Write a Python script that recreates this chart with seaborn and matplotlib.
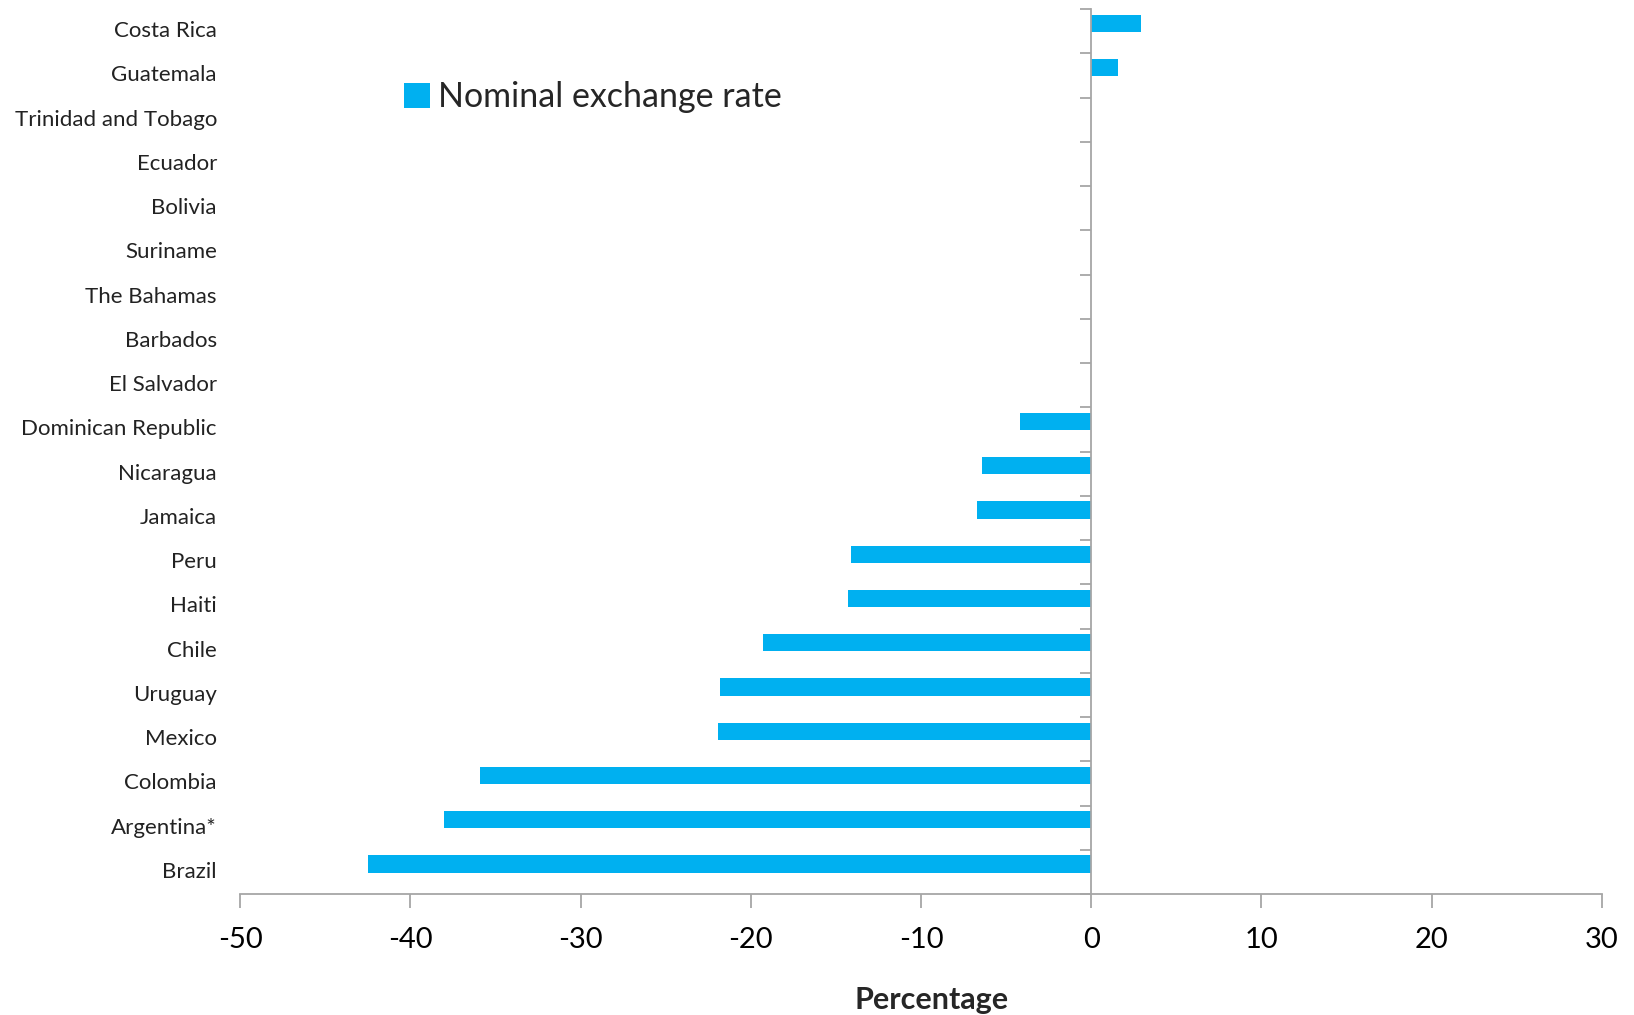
import numpy as np
import pandas as pd
import matplotlib
matplotlib.use('Agg')
import matplotlib.pyplot as plt
import matplotlib.transforms as mtransforms
import seaborn as sns

# Дані з графіка (зверху вниз)
countries = ['Costa Rica', 'Guatemala', 'Trinidad and Tobago', 'Ecuador', 'Bolivia',
             'Suriname', 'The Bahamas', 'Barbados', 'El Salvador', 'Dominican Republic',
             'Nicaragua', 'Jamaica', 'Peru', 'Haiti', 'Chile', 'Uruguay', 'Mexico',
             'Colombia', 'Argentina*', 'Brazil']
nominal = [2.9, 1.6, 0.0, 0.0, 0.0, 0.0, 0.0, 0.0, 0.0, -4.2,
           -6.4, -6.7, -14.1, -14.3, -19.3, -21.8, -21.9, -35.9, -38.0, -42.5]
x_ticks = [-50, -40, -30, -20, -10, 0, 10, 20, 30]

df = pd.DataFrame({'country': countries, 'value': nominal})

sns.set_style('white')
plt.rcParams['font.family'] = ['Lato', 'DejaVu Sans']

fig = plt.figure(figsize=(16.34, 10.15), dpi=100)
ax = fig.add_axes([0.1469, 0.1192, 0.8335, 0.8719])

sns.barplot(data=df, y='country', x='value', orient='h', color='#00B0F0',
            saturation=1, width=0.39, ax=ax, label='Nominal exchange rate')

# Excel зсуває смуги трохи вгору від центру категорії
for p in ax.patches:
    p.set_y(p.get_y() - 0.18)
    p.set_edgecolor('none')

ax.set_xlim(-50, 30)
ax.set_ylim(len(countries) - 0.5, -0.5)
ax.set_xticks(x_ticks)
ax.set_xticklabels([str(t) for t in x_ticks], fontsize=21)

# вертикальна вісь проходить через 0, позначки на межах категорій
ax.spines['left'].set_position(('data', 0))
ax.set_yticks(np.arange(-0.5, len(countries), 1))
ax.set_yticklabels([])
for s in ['top', 'right']:
    ax.spines[s].set_visible(False)
for s in ['left', 'bottom']:
    ax.spines[s].set_color('#A6A6A6')
    ax.spines[s].set_linewidth(1.3)
ax.tick_params(axis='y', direction='out', length=8, width=1.3, color='#A6A6A6', left=True)
ax.tick_params(axis='x', direction='out', length=10, width=1.3, color='#A6A6A6',
               bottom=True, pad=14, labelcolor='black')

# назви країн біля лівого краю
trans = mtransforms.blended_transform_factory(ax.transAxes, ax.transData)
for i, name in enumerate(countries):
    ax.text(-0.017, i, name, transform=trans, ha='right', va='center',
            fontsize=16, color='#222222')

ax.set_ylabel('')
ax.set_xlabel('Percentage', fontsize=22, fontweight='bold', va='center')
ax.xaxis.set_label_coords(0.508, -0.12)

ax.legend(loc='upper left', bbox_to_anchor=(0.098, 0.953), frameon=False,
          fontsize=24.5, handlelength=0.75, handleheight=0.75, handletextpad=0.25)

fig.savefig('out.png', dpi=100)
